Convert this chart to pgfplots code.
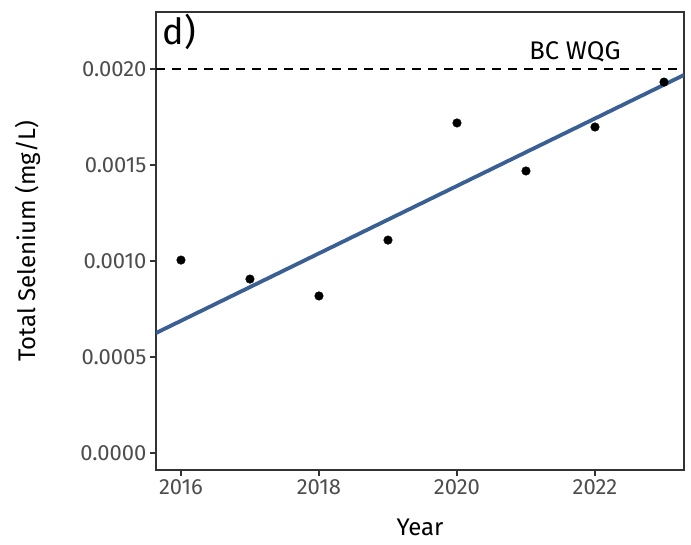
\documentclass[border=0pt]{standalone}
\usepackage{fontspec}
\setmainfont{Fira Sans}
\usepackage{pgfplots}
\pgfplotsset{compat=1.18}
\definecolor{frame}{HTML}{333333}
\definecolor{ticklab}{HTML}{4D4D4D}
\definecolor{fitblue}{HTML}{3A5F94}
\begin{document}
\begin{tikzpicture}[x=1pt,y=1pt]
\useasboundingbox (0,0) rectangle (691,544);
\begin{axis}[
  at={(156pt,74pt)}, anchor=south west,
  scale only axis, width=528pt, height=458pt,
  xmin=2015.638, xmax=2023.29,
  ymin=-0.0000885, ymax=0.002297,
  xtick={2016,2018,2020,2022},
  ytick={0,0.0005,0.001,0.0015,0.002},
  scaled y ticks=false,
  yticklabel style={/pgf/number format/.cd, fixed, fixed zerofill, precision=4},
  xticklabel style={/pgf/number format/.cd, 1000 sep={}},
  /pgf/number format/assume math mode=true,
  tick align=outside, tick pos=left,
  major tick length=6pt,
  every tick/.style={frame, line width=1.4pt},
  axis line style={frame, line width=1.4pt},
  ticklabel style={font=\fontsize{22}{24}\selectfont, text=ticklab},
  xlabel={Year}, ylabel={Total Selenium (mg/L)},
  label style={font=\fontsize{24}{26}\selectfont, inner sep=0pt},
  xlabel style={at={(axis description cs:0.5,-0.144)}, anchor=base},
  ylabel style={at={(axis description cs:-0.267,0.5)}, anchor=north},
  clip=true,
]
\addplot[black, line width=1.8pt, dash pattern=on 9pt off 7pt, forget plot] coordinates {(2015.638,0.002) (2023.29,0.002)};
\addplot[fitblue, line width=3.8pt, forget plot] coordinates {(2015.638,0.000625) (2023.29,0.001969)};
\addplot[only marks, mark=*, mark size=4.3pt, black] coordinates {
(2016,0.001005) (2017,0.000906) (2018,0.000818) (2019,0.001109)
(2020,0.001719) (2021,0.001469) (2022,0.001698) (2023,0.001932)};
\node[anchor=base west, font=\fontsize{36}{40}\selectfont, inner sep=0pt] at (axis description cs:0.012,0.928) {d)};
\node[anchor=base, font=\fontsize{25.5}{28}\selectfont, inner sep=0pt] at (axis cs:2021.71,0.002052) {BC WQG};
\end{axis}
\end{tikzpicture}
\end{document}
